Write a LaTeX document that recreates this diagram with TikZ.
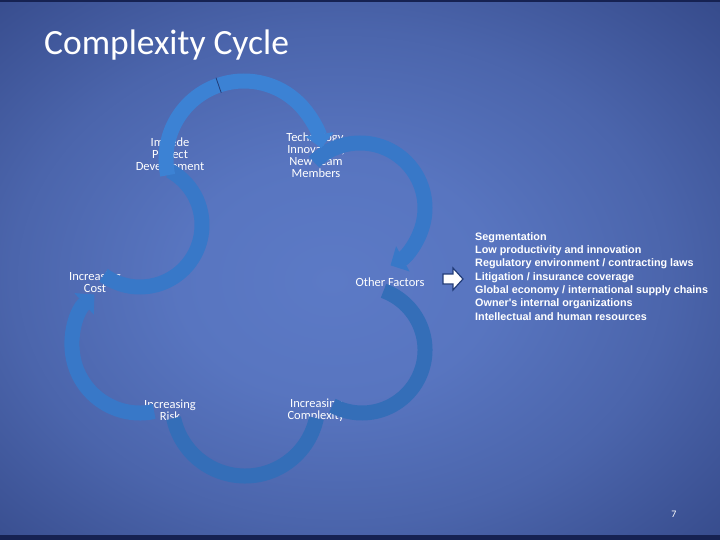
\documentclass[tikz,border=0pt]{standalone}
\usepackage{fontspec}
\setmainfont{Carlito}
\newfontfamily\listfont{Liberation Sans}
\usetikzlibrary{arrows.meta}

\definecolor{bgcenter}{RGB}{92,122,198}
\definecolor{bgedge}{RGB}{26,40,96}
\definecolor{bandtop}{RGB}{60,130,212}
\definecolor{bandmid}{RGB}{56,120,200}
\definecolor{bandlow}{RGB}{52,110,184}
\definecolor{seamblue}{RGB}{34,60,120}

\pgfdeclareradialshading{slidebg}{\pgfpoint{-2bp}{-1bp}}{%
	color(0bp)=(bgcenter); color(11bp)=(bgcenter!94!bgedge); color(23bp)=(bgcenter!74!bgedge);
	color(34bp)=(bgcenter!48!bgedge); color(43bp)=(bgcenter!28!bgedge); color(52bp)=(bgcenter!12!bgedge);
	color(72bp)=(bgedge)}

\begin{document}
\begin{tikzpicture}[x=1pt, y=-1pt,
	cyclelabel/.style={text=white, align=center, inner sep=0pt, font=\fontsize{12.5}{12}\selectfont},
	band/.style={line width=15pt, draw=#1},
	band/.default=bandmid,
	tipped/.style={-{Triangle[width=28pt, length=14pt]}}]
	% background
	\shade[shading=slidebg] (0,0) rectangle (720,540);
	\fill[bgedge!85!black] (0,0) rectangle (720,2);
	\fill[bgedge!85!black] (0,535) rectangle (720,540);
	\useasboundingbox (0,0) rectangle (720,540);

	\node[anchor=base west, text=white, inner sep=0pt, font=\fontsize{35.5}{40}\selectfont] (title) at (44,55) {Complexity Cycle};

	% labels of the cycle
	\node[cyclelabel] (impede) at (170,155) {Impede\\Project\\Development};
	\node[cyclelabel] (tech) at (316,155) {Technology,\\Innovation,\\New Team\\Members};
	\node[cyclelabel] (other) at (390,282) {Other Factors};
	\node[cyclelabel] (cplx) at (316,410) {Increasing\\Complexity};
	\node[cyclelabel] (risk) at (170,410) {Increasing\\Risk};
	\node[cyclelabel] (cost) at (95,282) {Increasing\\Cost};

	% circle centres
	\coordinate (cT) at (244,159);
	\coordinate (cR1) at (360,208);
	\coordinate (cR2) at (362,350);
	\coordinate (cB) at (245,403);
	\coordinate (cL2) at (140,345);
	\coordinate (cL1) at (140,225);

	% arcs
	\draw[band=bandmid, tipped] (cR1) ++(225:65) arc[start angle=225, end angle=422, radius=65];
	\draw[band=bandlow] (cR2) ++(290:63) arc[start angle=290, end angle=478, radius=63];
	\draw[band=bandlow] (cB) ++(12:73) arc[start angle=12, end angle=168, radius=73];
	\draw[band=bandmid, tipped] (cL2) ++(78:68) arc[start angle=78, end angle=228, radius=68];
	\draw[band=bandmid] (cL1) ++(126:62) arc[start angle=126, end angle=-61, radius=62];
	\draw[band=bandtop, tipped] (cT) ++(168:78) arc[start angle=168, end angle=352, radius=78];
	\draw[seamblue, line width=0.8pt] (cT) ++(251:70) -- ++(251:16);

	% other factors
	\coordinate (pointer) at (443,279);
	\draw[seamblue, fill=white, line width=1.2pt, line join=miter]
		(pointer) ++(0,-5) -- ++(10,0) -- ++(0,-6) -- ++(10,11) -- ++(-10,11) -- ++(0,-6) -- ++(-10,0) -- cycle;
	\node[anchor=north west, text=white, align=left, inner sep=0pt,
		font=\listfont\bfseries\fontsize{10.8}{13.35}\selectfont] (factors) at (475,232)
		{Segmentation\\Low productivity and innovation\\Regulatory environment / contracting laws\\Litigation / insurance coverage\\Global economy / international supply chains\\Owner's internal organizations\\Intellectual and human resources};

	\node[text=white, inner sep=0pt, font=\fontsize{10}{12}\selectfont] (pagenum) at (674,514) {7};
\end{tikzpicture}
\end{document}
